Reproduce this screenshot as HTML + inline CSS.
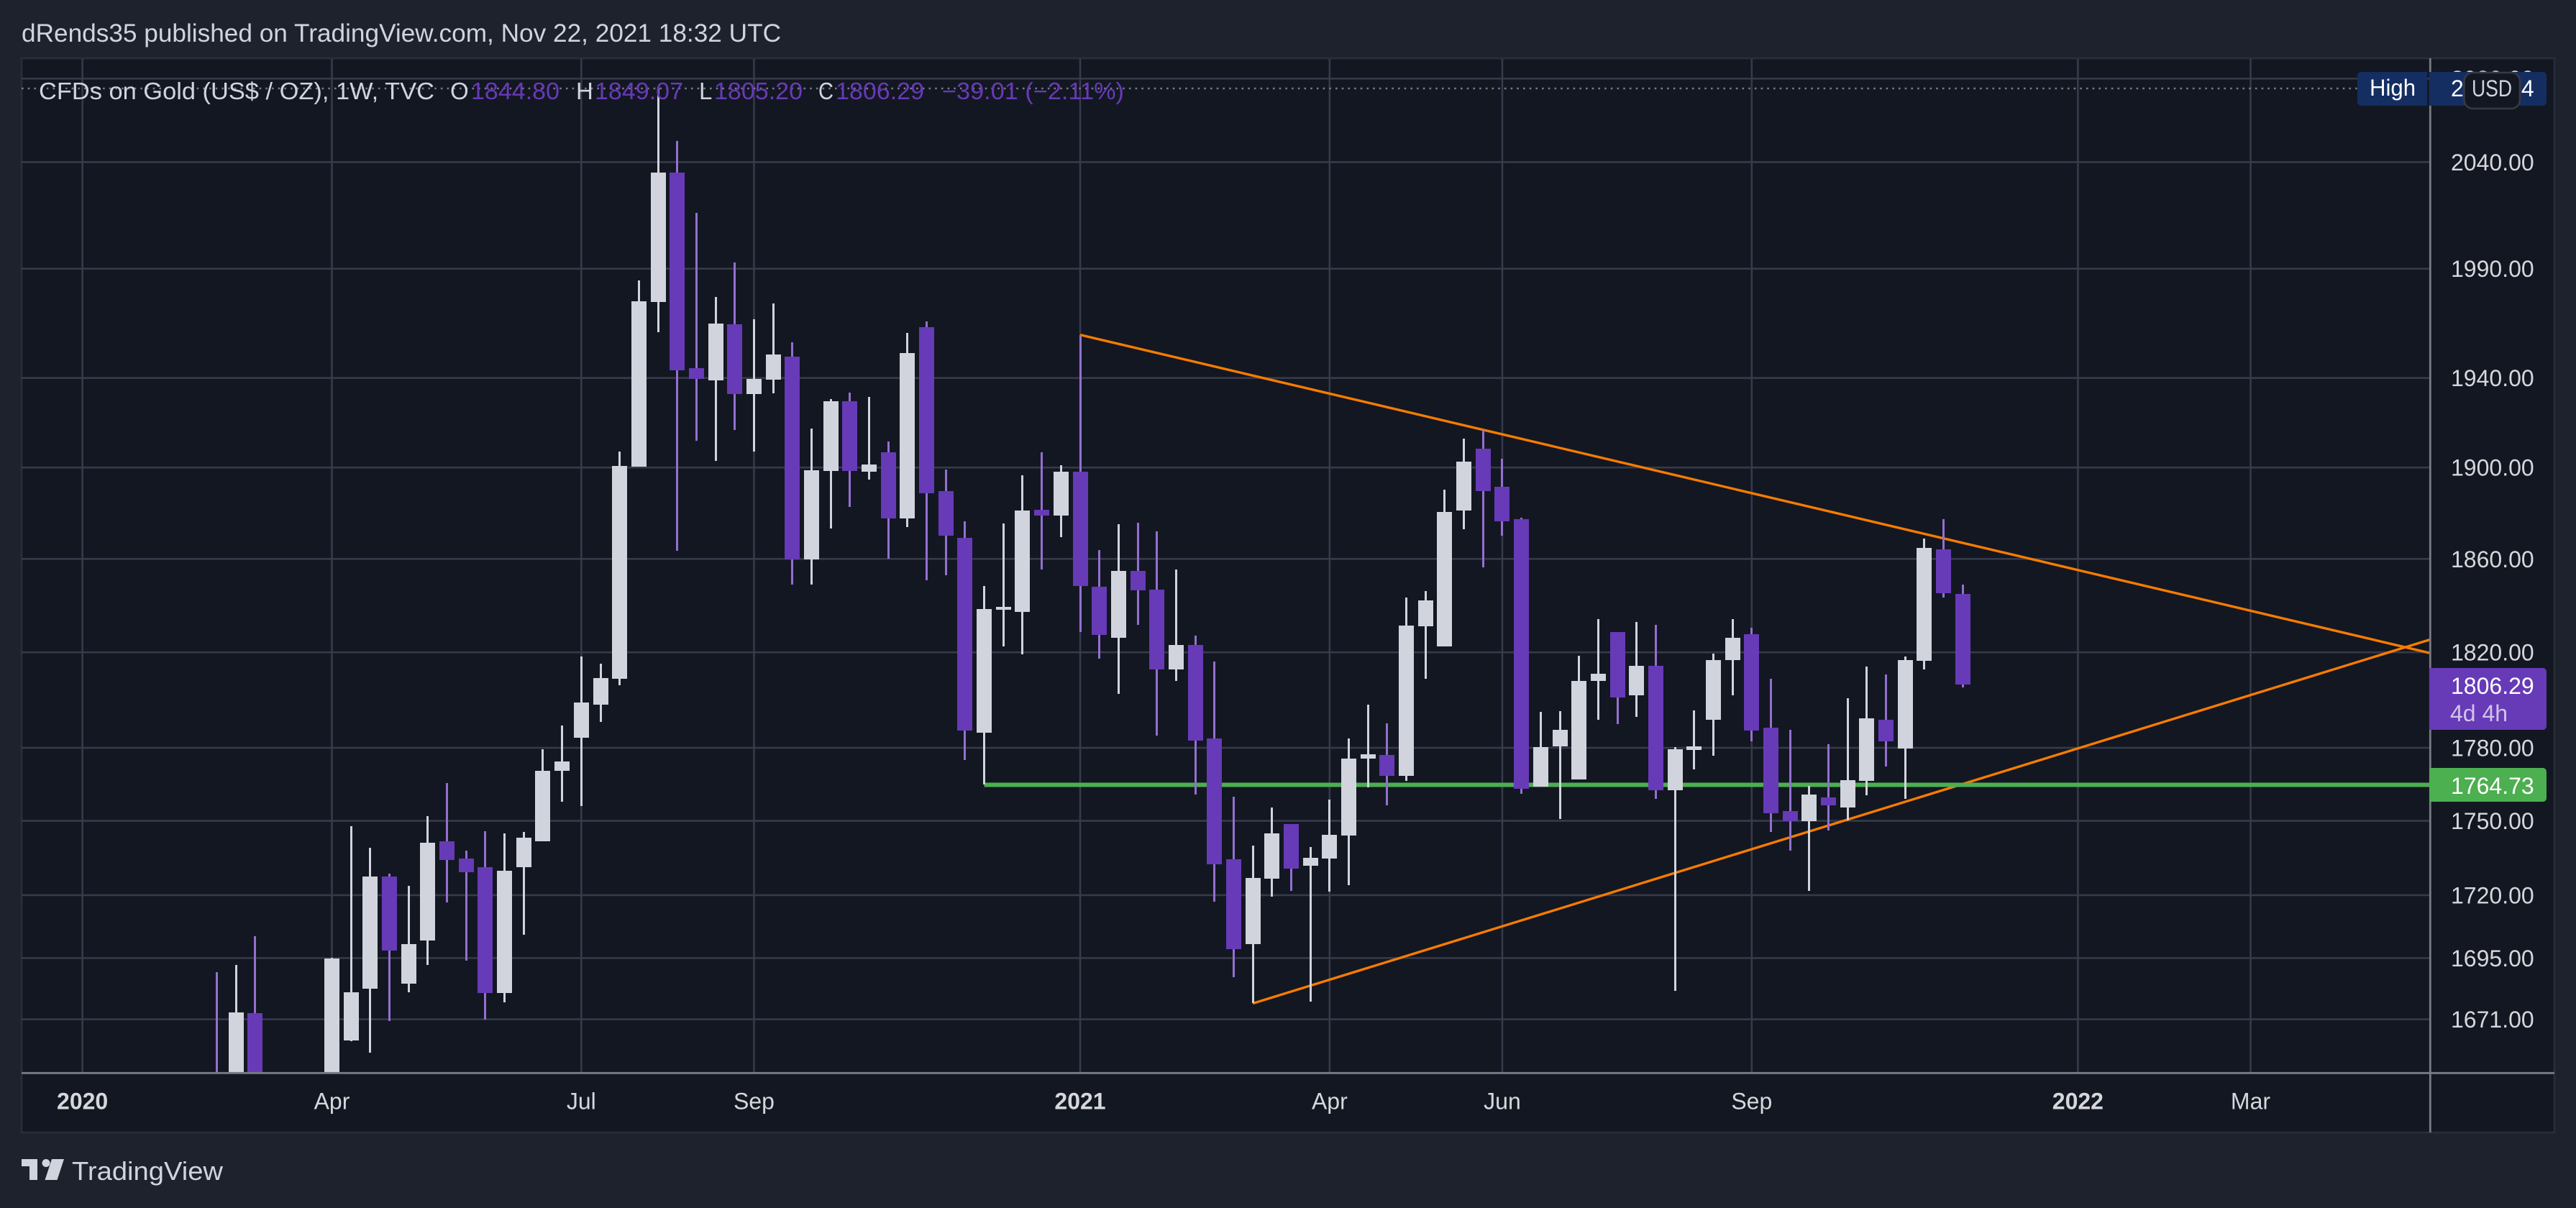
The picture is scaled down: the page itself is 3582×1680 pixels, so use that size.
<!DOCTYPE html>
<html lang="en">
<head>
<meta charset="utf-8">
<title>CFDs on Gold weekly chart</title>
<style>
html,body{margin:0;padding:0;background:#1e222d;width:3582px;height:1680px;overflow:hidden;}
svg{display:block;}
text{font-family:"Liberation Sans",sans-serif;}
</style>
</head>
<body>
<svg id="chart" xmlns="http://www.w3.org/2000/svg" width="3582" height="1680" viewBox="0 0 3582 1680">
  <defs>
    <clipPath id="plot-clip"><rect x="30" y="82" width="3348" height="1409"/></clipPath>
  </defs>
  <rect x="0" y="0" width="3582" height="1680" fill="#1e222d"/>
  <text x="30" y="58" font-size="35" fill="#d1d4dc" textLength="1056" lengthAdjust="spacingAndGlyphs">dRends35 published on TradingView.com, Nov 22, 2021 18:32 UTC</text>
  <rect x="30" y="81" width="3522" height="1494" fill="#131722" stroke="#2a2e39" stroke-width="2.6"/>
  <g id="grid"></g>
  <line x1="30" y1="123" x2="3278" y2="123" stroke="#787b86" stroke-width="2.6" stroke-dasharray="2.6 6.1"/>
  <g id="plot" clip-path="url(#plot-clip)">
    <g id="trendlines"></g>
    <g id="support"></g>
    <g id="candles"></g>
  </g>
  <g font-size="33">
    <text x="54" y="138" fill="#d1d4dc" textLength="550" lengthAdjust="spacingAndGlyphs">CFDs on Gold (US$ / OZ), 1W, TVC</text>
    <text x="626" y="138" fill="#d1d4dc">O</text>
    <text x="655" y="138" fill="#673ab7" textLength="123" lengthAdjust="spacingAndGlyphs">1844.80</text>
    <text x="801" y="138" fill="#d1d4dc">H</text>
    <text x="827" y="138" fill="#673ab7" textLength="123" lengthAdjust="spacingAndGlyphs">1849.07</text>
    <text x="972" y="138" fill="#d1d4dc">L</text>
    <text x="993" y="138" fill="#673ab7" textLength="123" lengthAdjust="spacingAndGlyphs">1805.20</text>
    <text x="1138" y="138" fill="#d1d4dc" textLength="21" lengthAdjust="spacingAndGlyphs">C</text>
    <text x="1162" y="138" fill="#673ab7" textLength="123" lengthAdjust="spacingAndGlyphs">1806.29</text>
    <text x="1310" y="138" fill="#673ab7" textLength="253" lengthAdjust="spacingAndGlyphs">−39.01 (−2.11%)</text>
  </g>
  <g id="price-axis" font-size="32"></g>
  <g id="time-axis" font-size="32"></g>
  <line x1="3379.3" y1="81" x2="3379.3" y2="1575" stroke="#787b86" stroke-width="2.8"/>
  <line x1="30" y1="1492.3" x2="3552" y2="1492.3" stroke="#787b86" stroke-width="2.8"/>

  <path d="M3283 100H3375V147H3283a5 5 0 0 1 -5 -5V105a5 5 0 0 1 5 -5z" fill="#142e61"/>
  <text x="3295" y="133" font-size="32" fill="#ffffff" textLength="64" lengthAdjust="spacingAndGlyphs">High</text>
  <path d="M3378 100H3536a5 5 0 0 1 5 5V142a5 5 0 0 1 -5 5H3378z" fill="#142e61"/>
  <text x="3408" y="134" font-size="32" fill="#ffffff">2075.14</text>
  <rect x="3426.5" y="101" width="77.5" height="50" rx="12" fill="#131722" stroke="#363a45" stroke-width="2.6"/>
  <text x="3437" y="134" font-size="32" fill="#d1d4dc" textLength="56" lengthAdjust="spacingAndGlyphs">USD</text>

  <path d="M3378 929H3536a5 5 0 0 1 5 5V1010a5 5 0 0 1 -5 5H3378z" fill="#673ab7"/>
  <text x="3408" y="965" font-size="32" fill="#ffffff">1806.29</text>
  <text x="3407" y="1003" font-size="32" fill="#d1c4e9" textLength="80" lengthAdjust="spacingAndGlyphs">4d 4h</text>
  <path d="M3378 1068H3536a5 5 0 0 1 5 5V1110a5 5 0 0 1 -5 5H3378z" fill="#4caf50"/>
  <text x="3408" y="1104" font-size="32" fill="#ffffff">1764.73</text>

  <g>
    <path d="M30 1612H52V1641H41V1622H30z" fill="#d1d4dc"/>
    <circle cx="64" cy="1617.5" r="5.5" fill="#d1d4dc"/>
    <path d="M72 1612H89L79.5 1641H62.5z" fill="#d1d4dc"/>
    <text x="100" y="1641" font-size="36" fill="#d1d4dc" textLength="210" lengthAdjust="spacingAndGlyphs">TradingView</text>
  </g>
</svg>
<script>
// Weekly OHLC values, oldest first (week 0 = mid Feb 2020)
const opens = [
  1640,1600,1673.4,1560,1490,1610,1620,1662.8,1683,1727.5,
  1685,1701.9,1741.8,1734.8,1731.3,1681.3,1731.3,1741.8,1770.5,1784.3,
  1798,1808.9,1900.4,1974.7,2035.1,1944.5,1939,1964.5,1932.8,1939.3,
  1949.7,1859.9,1898.5,1929.6,1898.2,1906.8,1877.6,1963.2,1889.6,1869.2,
  1786.3,1838.2,1837.3,1881.4,1878.9,1898.2,1848.1,1826.2,1854.9,1846.8,
  1812.8,1823.1,1784,1734.5,1700.5,1726.7,1748.8,1731.8,1734.8,1744.1,
  1775.6,1777.1,1768.5,1831.1,1822.5,1881.1,1908.4,1891.6,1877.3,1764,
  1780.7,1767,1808,1828.7,1802,1814.3,1762.5,1779.2,1791.7,1816.8,
  1827.7,1788.4,1754,1750,1759.6,1755.5,1766.4,1791.7,1779.8,1816.5,
  1864.3,1844.8
];
const highs = [
  1689.5,1692.3,1703.6,1600,1620,1640,1695,1747.9,1739.1,1728.7,
  1723.8,1752,1765.5,1738,1745.8,1745,1745.6,1779.5,1789.3,1818.3,
  1815.3,1907.1,1984.6,2075.14,2050.1,2016,1977,1993,1966.8,1974,
  1956.3,1917.3,1930.6,1933.5,1931.6,1911.5,1960.4,1965.8,1899.1,1876.4,
  1848.4,1875.5,1896.6,1906.8,1901,1959.4,1863.9,1875.2,1875.8,1872,
  1855.5,1827.1,1816.2,1759.9,1740,1755.5,1748.8,1739.4,1758.7,1784,
  1798,1790.2,1843.5,1846.2,1890.2,1912.8,1917,1903.9,1878,1795,
  1795.3,1818.6,1834.2,1828.7,1833,1831.7,1780.4,1795.6,1819.5,1834.2,
  1830.5,1808.9,1787.5,1764.3,1781.6,1800.6,1814,1810.7,1818.3,1868.9,
  1877.3,1849.07
];
const lows = [
  1580,1590,1550,1460,1450,1570,1610,1662.5,1658.1,1670.3,
  1681.6,1692.3,1717.2,1694,1670.9,1677.6,1704.2,1741.8,1757.8,1756.1,
  1790.8,1806.2,1900.4,1960.9,1863.6,1911.9,1903,1916.6,1907.1,1933.2,
  1849,1849,1873.3,1882.6,1894.7,1860.2,1873.9,1850.8,1853,1775,
  1764.73,1822.5,1819.2,1855.5,1869.5,1828.7,1817.4,1802.6,1831.7,1785.1,
  1808,1760.7,1717.4,1687.5,1677.2,1719.5,1721.8,1677.9,1721.5,1724.1,
  1763.7,1756.4,1766.4,1808.9,1822.5,1873,1856.4,1870.2,1761,1764,
  1750.8,1767,1791.7,1789.9,1792.9,1759,1682.1,1771.1,1776.8,1801.9,
  1782.8,1745.6,1738,1721.8,1746.2,1750.2,1760.4,1772.3,1759,1812.8,
  1843.5,1805.2
];
const closes = [
  1600,1673.7,1560,1490,1610,1625,1694.9,1681.6,1727.5,1698,
  1700.5,1741.2,1734.2,1729.3,1681.3,1729.8,1743.2,1770.5,1774.4,1798.9,
  1809.2,1900.7,1975,2035.1,1943.5,1939.7,1964.9,1932.8,1939.7,1950.7,
  1859.9,1898.8,1929.6,1898.5,1901.4,1877.6,1951.3,1888.7,1870.2,1787.2,
  1838.5,1839.4,1881.1,1878.9,1898.2,1848.4,1827.4,1854.9,1846.5,1812.8,
  1823.1,1783.1,1732.4,1698.5,1727,1745,1730.7,1735,1744.4,1775.6,
  1777.4,1768.5,1831.4,1842.2,1880.5,1902.6,1889.6,1876.4,1763.1,1780.4,
  1787.5,1808,1811,1801,1814.3,1762.5,1779.5,1780.7,1816.8,1826.2,
  1787.2,1753.1,1750,1760.7,1756.4,1766.7,1792.3,1782.8,1816.8,1864.9,
  1845.3,1806.29
];
const priceTicks = [2080,2040,1990,1940,1900,1860,1820,1780,1750,1720,1695,1671];
const timeTickLabels = ['2020','Apr','Jul','Sep','2021','Apr','Jun','Sep','2022','Mar'];
const timeTickWeeks = [-7,6,19,28,45,58,67,80,97,106];
const upperTrendWeeks = [45,115.35];
const upperTrendPrices = [1959.6,1819.7];
const lowerTrendWeeks = [54,115.35];
const lowerTrendPrices = [1677.2,1825.4];
const supportStartWeek = 40;
const supportPrice = 1764.73;

const SVG_NS = 'http://www.w3.org/2000/svg';
const PLOT_TOP = 82;
const PLOT_BOTTOM = 1491;
function xScale(week){ return 301.4 + week * 26.68; }
function yScale(price){ return 225.4 + (Math.log(2040) - Math.log(price)) * 5975; }
function clampY(y){ return Math.min(PLOT_BOTTOM, Math.max(PLOT_TOP, y)); }
function make(tag, props, parent){
  const el = document.createElementNS(SVG_NS, tag);
  for (const k in props) el.setAttribute(k, props[k]);
  parent.appendChild(el);
  return el;
}

const gridG = document.getElementById('grid');
const priceG = document.getElementById('price-axis');
const timeG = document.getElementById('time-axis');
const trendG = document.getElementById('trendlines');
const supportG = document.getElementById('support');
const candleG = document.getElementById('candles');

priceTicks.forEach(function(tick){
  const y = yScale(tick);
  const line = make('line', {x1:30, x2:3379, y1:y, y2:y, stroke:'#363a4a', 'stroke-width':2.6}, gridG);
  
  
  const label = make('text', {x:3408, y:y + 11.5, fill:'#d6d7db'}, priceG);
  label.textContent = tick.toFixed(2);
  
  
});

timeTickWeeks.forEach(function(week, i){
  const x = xScale(week);
  const line = make('line', {x1:x, x2:x, y1:82, y2:1491, stroke:'#363a4a', 'stroke-width':2.6}, gridG);
  
  
  const isYear = /^\d{4}$/.test(timeTickLabels[i]);
  const label = make('text', {x:x, y:1542.5, fill:'#d6d7db', 'text-anchor':'middle', 'font-weight':isYear ? 'bold' : 'normal'}, timeG);
  label.textContent = timeTickLabels[i];
  
  
});

const upperLine = make('line', {
  x1:xScale(upperTrendWeeks[0]), y1:yScale(upperTrendPrices[0]),
  x2:xScale(upperTrendWeeks[1]), y2:yScale(upperTrendPrices[1]),
  stroke:'#f77c00', 'stroke-width':3.4
}, trendG);



const lowerLine = make('line', {
  x1:xScale(lowerTrendWeeks[0]), y1:yScale(lowerTrendPrices[0]),
  x2:xScale(lowerTrendWeeks[1]), y2:yScale(lowerTrendPrices[1]),
  stroke:'#f77c00', 'stroke-width':3.4
}, trendG);



const supportLine = make('line', {
  x1:xScale(supportStartWeek), y1:yScale(supportPrice),
  x2:3379, y2:yScale(supportPrice),
  stroke:'#4caf50', 'stroke-width':6
}, supportG);



opens.forEach(function(open, i){
  const close = closes[i];
  const falling = close < open;
  const x = xScale(i);
  const top = clampY(Math.round(yScale(Math.max(open, close))));
  const bottom = clampY(Math.round(yScale(Math.min(open, close))));
  const wickTop = clampY(Math.round(yScale(highs[i])));
  const wickBottom = clampY(Math.round(yScale(lows[i])));
  const wick = make('rect', {
    x:Math.round(x - 1.5), y:wickTop, width:3, height:wickBottom - wickTop,
    fill:falling ? '#9370d0' : '#d1d4dc'
  }, candleG);
  
  
  const bodyHeight = top >= PLOT_BOTTOM ? 0 : Math.max(bottom - top, 2);
  const body = make('rect', {
    x:Math.round(x - 10.5), y:top, width:21, height:bodyHeight,
    fill:falling ? '#673ab7' : '#d1d4dc'
  }, candleG);
  
  
});
</script>
</body>
</html>
